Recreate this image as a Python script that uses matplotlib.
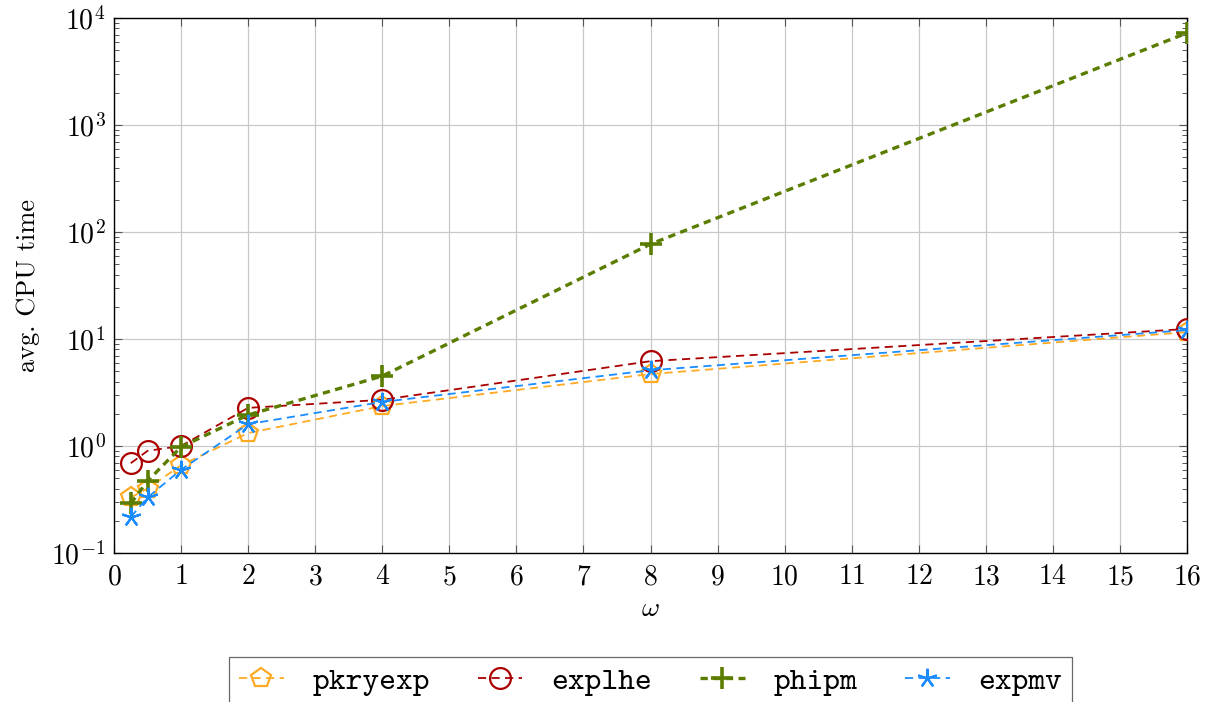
import matplotlib
matplotlib.use('Agg')
import matplotlib.pyplot as plt
from matplotlib.ticker import LogLocator, NullFormatter, MultipleLocator

plt.rcParams['font.family'] = 'serif'
plt.rcParams['font.serif'] = ['cmr10']
plt.rcParams['mathtext.fontset'] = 'cm'
plt.rcParams['axes.formatter.use_mathtext'] = True

omega = [0.25, 0.5, 1, 2, 4, 8, 16]
pkryexp = [0.33, 0.40, 0.66, 1.32, 2.36, 4.7, 11.6]
explhe = [0.69, 0.90, 1.0, 2.27, 2.7, 6.2, 12.4]
phipm = [0.29, 0.47, 0.98, 1.95, 4.5, 77, 7240]
expmv = [0.217, 0.33, 0.60, 1.6, 2.58, 5.1, 12.1]

fig = plt.figure(figsize=(12.09, 7.02), dpi=100)
ax = fig.add_axes([0.0943, 0.2123, 0.8875, 0.7621])

dash = (0, (4.5, 3))
ax.plot(omega, pkryexp, color='#ffaa22', ls=dash, lw=1.3, marker='p',
        ms=15, mfc='none', mew=1.6, label='pkryexp', zorder=3)
ax.plot(omega, explhe, color='#aa0000', ls=dash, lw=1.3, marker='o',
        ms=15, mfc='none', mew=1.6, label='explhe', zorder=3)
ax.plot(omega, phipm, color='#5a7d00', ls=(0, (2.2, 1.6)), lw=2.4, marker='+',
        ms=16, mew=2.6, label='phipm', zorder=3)
ax.plot(omega, expmv, color='#1a8cff', ls=dash, lw=1.3, marker=(5, 2, 0),
        ms=14, mew=1.6, label='expmv', zorder=3)

ax.set_yscale('log')
ax.set_xlim(0, 16)
ax.set_ylim(1e-1, 1e4)
ax.xaxis.set_major_locator(MultipleLocator(1))
ax.yaxis.set_major_locator(LogLocator(base=10, numticks=10))
ax.yaxis.set_minor_locator(LogLocator(base=10, subs=range(2, 10), numticks=20))
ax.yaxis.set_minor_formatter(NullFormatter())

ax.grid(True, which='major', color='#c8c8c8', lw=0.9)
ax.set_axisbelow(True)
ax.tick_params(which='both', direction='in', top=True, right=True, labelsize=20)
ax.tick_params(axis='x', pad=8)
ax.tick_params(axis='y', pad=6)
ax.tick_params(which='major', length=6, width=0.8, color='#555555')
ax.tick_params(which='minor', length=3.5, width=0.7, color='#555555')
for s in ax.spines.values():
    s.set_linewidth(1.0)

ax.set_xlabel(r'$\omega$', fontsize=20, labelpad=4)
ax.set_ylabel('avg. CPU time', fontsize=19, labelpad=8)

leg = ax.legend(loc='upper center', bbox_to_anchor=(0.5, -0.194), ncol=4,
                prop={'family': 'cmtt10', 'size': 23}, frameon=True,
                fancybox=False, edgecolor='#444444', handlelength=1.4,
                columnspacing=1.5, handletextpad=0.9, borderpad=0.3,
                borderaxespad=0)
leg.get_frame().set_linewidth(0.9)

fig.savefig('out.png', dpi=100)
